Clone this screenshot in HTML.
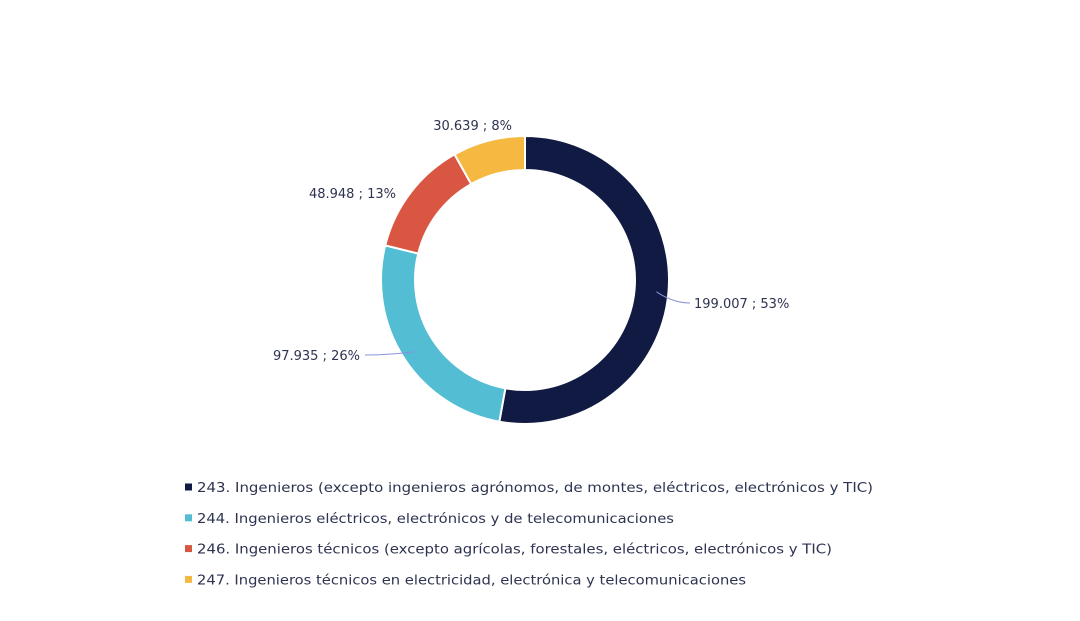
<!DOCTYPE html>
<html><head><meta charset="utf-8"><style>
body{margin:0;background:#fff}
svg text{font-family:"DejaVu Sans","Liberation Sans",sans-serif;fill:#2d3350;font-size:13px}
</style></head><body>
<svg width="1080" height="616" viewBox="0 0 1080 616">
<g id="slices"></g>
<g id="labels"></g>
<g id="legend"></g>
</svg>
<script>
const categories=["243. Ingenieros (excepto ingenieros agrónomos, de montes, eléctricos, electrónicos y TIC)","244. Ingenieros eléctricos, electrónicos y de telecomunicaciones","246. Ingenieros técnicos (excepto agrícolas, forestales, eléctricos, electrónicos y TIC)","247. Ingenieros técnicos en electricidad, electrónica y telecomunicaciones"];
const values=[199007,97935,48948,30639];
const valueLabels=["199.007 ; 53%","97.935 ; 26%","48.948 ; 13%","30.639 ; 8%"];
const colors=["#111a42","#52bdd3","#d95643","#f5b942"];
const NS="http://www.w3.org/2000/svg";
const cx=525,cy=280,R=144,r=110;
const total=values.reduce((a,b)=>a+b,0);
function pt(a,rad){return [cx+rad*Math.sin(a),cy-rad*Math.cos(a)];}
let a0=0;
const sg=document.getElementById('slices');
const mids=[];
values.forEach((v,i)=>{
 const a1=a0+v/total*2*Math.PI;
 const large=(a1-a0)>Math.PI?1:0;
 const [x0,y0]=pt(a0,R),[x1,y1]=pt(a1,R),[x2,y2]=pt(a1,r),[x3,y3]=pt(a0,r);
 const p=document.createElementNS(NS,'path');
 p.setAttribute('d',`M${x0},${y0}A${R},${R} 0 ${large} 1 ${x1},${y1}L${x2},${y2}A${r},${r} 0 ${large} 0 ${x3},${y3}Z`);
 p.setAttribute('fill',colors[i]);p.setAttribute('stroke','#fff');p.setAttribute('stroke-width','2');
 
 
 sg.appendChild(p);
 mids.push((a0+a1)/2);
 a0=a1;
});
// label placements (layout, not data)
const lg=document.getElementById('labels');
const lab=[{x:694,y:308,anchor:'start',line:true},{x:360,y:360,anchor:'end',line:true},{x:396,y:198,anchor:'end'},{x:512,y:130,anchor:'end'}];
lab.forEach((L,i)=>{
 if(L.line){
  const [px,py]=pt(mids[i],(R+r)/2+5);
  const l=document.createElementNS(NS,'path');
  const ex=L.anchor==='start'?L.x-4:L.x+5, ey=L.y-5;
  l.setAttribute('d',`M${px},${py}Q${(px+ex)/2},${ey} ${ex},${ey}`);
  l.setAttribute('fill','none');l.setAttribute('stroke','#8a93d8');l.setAttribute('stroke-width','1');
  
  
  lg.appendChild(l);
 }
 const t=document.createElementNS(NS,'text');
 t.setAttribute('x',L.x);t.setAttribute('y',L.y);t.setAttribute('text-anchor',L.anchor);
 t.textContent=valueLabels[i];
 
 
 lg.appendChild(t);
});
const leg=document.getElementById('legend');
const widths=[676,477,635,549];
categories.forEach((c,i)=>{
 const y=487+i*30.8;
 const s=document.createElementNS(NS,'rect');
 s.setAttribute('x',185);s.setAttribute('y',y-3.5);s.setAttribute('width',7);s.setAttribute('height',7);s.setAttribute('fill',colors[i]);
 
 
 leg.appendChild(s);
 const t=document.createElementNS(NS,'text');
 t.setAttribute('x',197);t.setAttribute('y',y+5);
 t.setAttribute('textLength',widths[i]);t.setAttribute('lengthAdjust','spacingAndGlyphs');
 t.textContent=c;
 
 
 leg.appendChild(t);
});
</script>
</body></html>
